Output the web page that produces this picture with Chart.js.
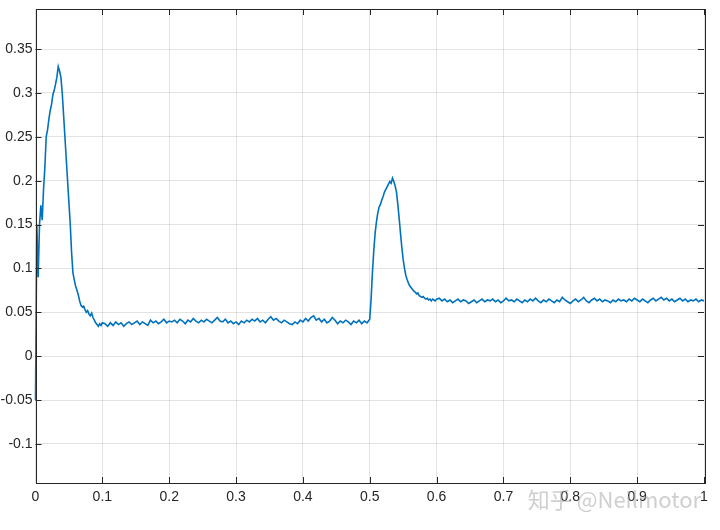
<!DOCTYPE html>
<html>
<head>
<meta charset="utf-8">
<script src="https://cdn.jsdelivr.net/npm/chart.js@4"></script>
<style>
  html, body { margin: 0; padding: 0; background: #ffffff; }
  #wrap { width: 720px; height: 530px; }
</style>
</head>
<body>
<div id="wrap"><canvas id="c" width="720" height="530"></canvas></div>
<script>
// ---- data ----
// sampled segments: start time, sample step, values
const segAStart = 0.0,   segAStep = 0.002;
const segAValues = [-0.05, 0.15, 0.09, 0.15, 0.172, 0.155, 0.19, 0.215, 0.25, 0.258,
  0.27, 0.28, 0.287, 0.298, 0.303, 0.31, 0.318, 0.33, 0.325, 0.318,
  0.30, 0.275, 0.25, 0.225, 0.20, 0.175, 0.15, 0.118, 0.095, 0.087,
  0.08, 0.075, 0.07, 0.063, 0.058, 0.056, 0.057, 0.053, 0.05, 0.052,
  0.048, 0.046, 0.049, 0.044, 0.041, 0.038, 0.036, 0.034, 0.037, 0.035, 0.038];

const segBStart = 0.104, segBStep = 0.004;
const segBValues = [
  0.037,0.034,0.038,0.035,0.039,0.036,0.038,0.034,0.037,0.039,
  0.036,0.038,0.040,0.036,0.039,0.037,0.035,0.041,0.038,0.040,
  0.037,0.039,0.042,0.038,0.040,0.039,0.041,0.038,0.042,0.040,
  0.037,0.041,0.039,0.043,0.040,0.038,0.041,0.039,0.042,0.040,
  0.038,0.041,0.044,0.040,0.039,0.042,0.038,0.040,0.037,0.039,
  0.036,0.040,0.038,0.041,0.039,0.042,0.040,0.043,0.039,0.041,
  0.038,0.042,0.045,0.041,0.043,0.040,0.038,0.041,0.039,0.037,
  0.036,0.039,0.037,0.041,0.039,0.043,0.040,0.044,0.046,0.041,
  0.043,0.039,0.042,0.038,0.040,0.044,0.041,0.037,0.040,0.038,
  0.041,0.039,0.036,0.040,0.038,0.041,0.037,0.040,0.038,0.042];

const segCStart = 0.502, segCStep = 0.002;
const segCValues = [0.065, 0.095, 0.12, 0.14, 0.153, 0.163, 0.17, 0.173, 0.178, 0.182,
  0.187, 0.19, 0.193, 0.196, 0.199, 0.197, 0.203, 0.199, 0.194, 0.187,
  0.173, 0.157, 0.14, 0.124, 0.11, 0.10, 0.092, 0.087, 0.083, 0.08,
  0.078, 0.076, 0.074, 0.073, 0.071, 0.072, 0.069, 0.068, 0.067, 0.068,
  0.066, 0.065, 0.066, 0.064, 0.065, 0.063, 0.065, 0.064, 0.063, 0.065];

const segDStart = 0.604, segDStep = 0.004;
const segDValues = [
  0.066,0.063,0.065,0.062,0.064,0.061,0.063,0.065,0.062,0.064,
  0.063,0.060,0.062,0.064,0.061,0.063,0.065,0.062,0.064,0.063,
  0.065,0.062,0.064,0.061,0.063,0.066,0.063,0.064,0.062,0.065,
  0.063,0.061,0.064,0.062,0.065,0.063,0.066,0.063,0.061,0.064,
  0.062,0.065,0.063,0.061,0.064,0.062,0.067,0.064,0.062,0.060,
  0.063,0.065,0.062,0.064,0.067,0.063,0.061,0.064,0.066,0.063,
  0.065,0.062,0.064,0.063,0.061,0.064,0.062,0.065,0.063,0.064,
  0.062,0.065,0.063,0.066,0.064,0.062,0.065,0.063,0.061,0.064,
  0.066,0.063,0.065,0.067,0.064,0.066,0.063,0.065,0.062,0.064,
  0.066,0.063,0.065,0.062,0.064,0.063,0.065,0.062,0.064,0.063];

const xTickValues = [0, 0.1, 0.2, 0.3, 0.4, 0.5, 0.6, 0.7, 0.8, 0.9, 1];
const xTickLabels = ['0', '0.1', '0.2', '0.3', '0.4', '0.5', '0.6', '0.7', '0.8', '0.9', '1'];
const yTickValues = [-0.1, -0.05, 0, 0.05, 0.1, 0.15, 0.2, 0.25, 0.3, 0.35];
const yTickLabels = ['-0.1', '-0.05', '0', '0.05', '0.1', '0.15', '0.2', '0.25', '0.3', '0.35'];
const watermarkText = '知乎 @Neilmotor';

// ---- build points ----
const segments = [
  [segAStart, segAStep, segAValues],
  [segBStart, segBStep, segBValues],
  [segCStart, segCStep, segCValues],
  [segDStart, segDStep, segDValues]
];
const points = [];
segments.forEach(([s, st, vals]) => {
  vals.forEach((v, i) => points.push({ x: Math.round((s + i * st) * 1e6) / 1e6, y: v }));
});

const TICK_LEN = 6;
const boxPlugin = {
  id: 'boxPlugin',
  afterDatasetsDraw(chart) {
    const { ctx, chartArea: a, scales } = chart;
    ctx.save();
    ctx.strokeStyle = '#262626';
    ctx.lineWidth = 1;
    ctx.beginPath();
    xTickValues.forEach(v => {
      const px = Math.round(scales.x.getPixelForValue(v)) + 0.5;
      ctx.moveTo(px, a.bottom); ctx.lineTo(px, a.bottom - TICK_LEN);
      ctx.moveTo(px, a.top); ctx.lineTo(px, a.top + TICK_LEN);
    });
    yTickValues.forEach(v => {
      const py = Math.round(scales.y.getPixelForValue(v)) + 0.5;
      ctx.moveTo(a.left, py); ctx.lineTo(a.left + TICK_LEN, py);
      ctx.moveTo(a.right, py); ctx.lineTo(a.right - TICK_LEN, py);
    });
    ctx.stroke();
    ctx.strokeRect(Math.round(a.left) + 0.5, Math.round(a.top) + 0.5,
      Math.round(a.right - a.left), Math.round(a.bottom - a.top));
    // watermark
    ctx.font = '22px "Noto Sans CJK SC", "Liberation Sans", sans-serif';
    ctx.fillStyle = 'rgba(160,160,160,0.5)';
    ctx.textAlign = 'right';
    ctx.textBaseline = 'middle';
    ctx.fillText(watermarkText, 701, 500);
    ctx.restore();
  }
};

new Chart(document.getElementById('c'), {
  type: 'line',
  data: {
    datasets: [{
      data: points,
      borderColor: '#0072BD',
      borderWidth: 1.6,
      pointRadius: 0,
      tension: 0,
      fill: false,
      clip: 3
    }]
  },
  options: {
    responsive: false,
    animation: false,
    layout: { padding: { top: 9, right: 16, left: 0, bottom: 0 } },
    plugins: { legend: { display: false }, tooltip: { enabled: false } },
    scales: {
      x: {
        type: 'linear',
        min: 0, max: 1,
        afterBuildTicks(scale) { scale.ticks = xTickValues.map(v => ({ value: v })); },
        afterFit(scale) { scale.height = 47; scale.paddingLeft = 0; scale.paddingRight = 0; },
        ticks: {
          padding: 6,
          color: '#262626',
          font: { family: '"Liberation Sans", Arial, sans-serif', size: 14 },
          callback: (v) => { const i = xTickValues.findIndex(t => Math.abs(t - v) < 1e-9); return i >= 0 ? xTickLabels[i] : ''; },
          maxRotation: 0, autoSkip: false
        },
        grid: { color: 'rgba(38,38,38,0.13)', drawTicks: false, lineWidth: 1 },
        border: { display: false }
      },
      y: {
        type: 'linear',
        min: -0.1446, max: 0.3957,
        afterBuildTicks(scale) { scale.ticks = yTickValues.map(v => ({ value: v })); },
        afterFit(scale) { scale.width = 35.5; scale.paddingTop = 0; scale.paddingBottom = 0; },
        ticks: {
          padding: 3,
          color: '#262626',
          font: { family: '"Liberation Sans", Arial, sans-serif', size: 14 },
          callback: (v) => { const i = yTickValues.findIndex(t => Math.abs(t - v) < 1e-9); return i >= 0 ? yTickLabels[i] : ''; },
          autoSkip: false
        },
        grid: { color: 'rgba(38,38,38,0.13)', drawTicks: false, lineWidth: 1 },
        border: { display: false }
      }
    }
  },
  plugins: [boxPlugin]
});
</script>
</body>
</html>
